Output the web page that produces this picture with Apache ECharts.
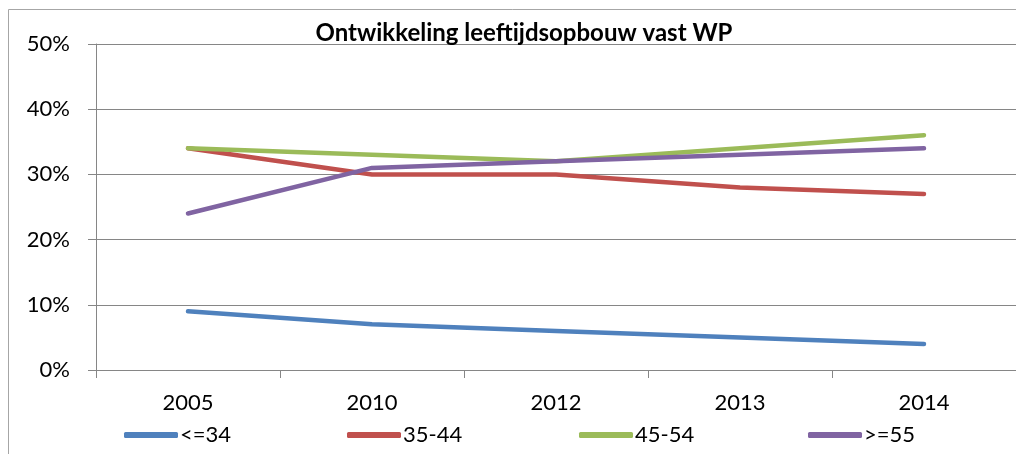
<!DOCTYPE html>
<html>
<head>
<meta charset="utf-8">
<script src="https://cdn.jsdelivr.net/npm/echarts@6/dist/echarts.min.js"></script>
<style>
  html, body { margin: 0; padding: 0; background: #fff; }
  #chart { width: 1016px; height: 454px; }
</style>
</head>
<body>
<div id="chart"></div>
<script>
// years on the x axis
const years = ['2005', '2010', '2012', '2013', '2014'];

// share of staff per age group, in percent
const upTo34 = [9, 7, 6, 5, 4];
const age35to44 = [34, 30, 30, 28, 27];
const age45to54 = [34, 33, 32, 34, 36];
const from55 = [24, 31, 32, 33, 34];

const seriesNames = ['<=34', '35-44', '45-54', '>=55'];
const seriesColors = ['#4F81BD', '#C0504D', '#9BBB59', '#8064A2'];
const seriesData = [upTo34, age35to44, age45to54, from55];

const font = 'Lato, "Open Sans", sans-serif';
const axisGray = '#868686';

const chart = echarts.init(document.getElementById('chart'));

const legendLefts = [124, 347, 579, 808];

const option = {
  backgroundColor: '#fff',
  animation: false,
  title: {
    text: 'Ontwikkeling leeftijdsopbouw vast WP',
    left: 519,
    top: 16,
    textAlign: 'center',
    textStyle: { fontFamily: font, fontSize: 24, fontWeight: 'bold', color: '#000' }
  },
  graphic: [{
    type: 'rect',
    shape: { x: 8.5, y: 9.5, width: 1100, height: 600 },
    style: { fill: 'none', stroke: '#a6a6a6', lineWidth: 1 },
    silent: true
  }],
  legend: seriesNames.map((name, i) => ({
    data: [name],
    left: legendLefts[i],
    top: 424,
    itemWidth: 54,
    itemHeight: 6,
    itemGap: 0,
    padding: 0,
    icon: 'roundRect',
    textStyle: { fontFamily: font, fontSize: 22, color: '#000', padding: [0, 0, 0, -3] }
  })),
  grid: { left: 96, right: -1, top: 44, bottom: 84, containLabel: false },
  xAxis: {
    type: 'category',
    data: years,
    boundaryGap: true,
    axisLine: { lineStyle: { color: axisGray, width: 1 } },
    axisTick: { show: true, length: 8, lineStyle: { color: axisGray } },
    axisLabel: { margin: 22, fontFamily: font, fontSize: 22, color: '#000' }
  },
  yAxis: {
    type: 'value',
    min: 0,
    max: 50,
    interval: 10,
    axisLine: { show: true, lineStyle: { color: axisGray, width: 1 } },
    axisTick: { show: true, length: 8, lineStyle: { color: axisGray } },
    splitLine: { lineStyle: { color: axisGray, width: 1 } },
    axisLabel: {
      margin: 26,
      fontFamily: font,
      fontSize: 22,
      color: '#000',
      formatter: v => v + '%'
    }
  },
  series: seriesNames.map((name, i) => ({
    name: name,
    type: 'line',
    data: seriesData[i],
    showSymbol: false,
    symbol: 'none',
    color: seriesColors[i],
    lineStyle: { width: 4.5, cap: 'round', join: 'round' }
  }))
};

chart.setOption(option);
</script>
</body>
</html>
